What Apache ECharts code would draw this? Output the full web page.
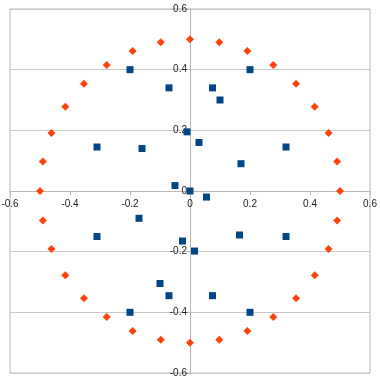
<!DOCTYPE html>
<html>
<head>
<meta charset="utf-8">
<script src="https://cdn.jsdelivr.net/npm/echarts@6/dist/echarts.min.js"></script>
<style>html,body{margin:0;padding:0;background:#fff;}#c{width:380px;height:383px;}</style>
</head>
<body>
<div id="c"></div>
<script>
var ringX = [0.5, 0.4904, 0.4619, 0.4157, 0.3536, 0.2778, 0.1913, 0.0975, 0, -0.0975, -0.1913, -0.2778, -0.3536, -0.4157, -0.4619, -0.4904,
             -0.5, -0.4904, -0.4619, -0.4157, -0.3536, -0.2778, -0.1913, -0.0975, 0, 0.0975, 0.1913, 0.2778, 0.3536, 0.4157, 0.4619, 0.4904];
var ringY = [0, 0.0975, 0.1913, 0.2778, 0.3536, 0.4157, 0.4619, 0.4904, 0.5, 0.4904, 0.4619, 0.4157, 0.3536, 0.2778, 0.1913, 0.0975,
             0, -0.0975, -0.1913, -0.2778, -0.3536, -0.4157, -0.4619, -0.4904, -0.5, -0.4904, -0.4619, -0.4157, -0.3536, -0.2778, -0.1913, -0.0975];
var pointX = [-0.2, -0.07, -0.31, -0.16, -0.01, -0.05, 0.2, 0.075, 0.1, 0.03, 0.32, 0.17, 0, 0.055,
              -0.17, -0.31, -0.025, -0.1, -0.07, -0.2, 0.165, 0.32, 0.015, 0.075, 0.2];
var pointY = [0.4, 0.34, 0.145, 0.14, 0.195, 0.018, 0.4, 0.34, 0.3, 0.16, 0.145, 0.09, 0, -0.02,
              -0.09, -0.15, -0.165, -0.305, -0.345, -0.4, -0.145, -0.15, -0.198, -0.345, -0.4];
var tickLabels = ['-0.6', '-0.4', '-0.2', '0', '0.2', '0.4', '0.6'];

function pairs(xs, ys) { return xs.map(function (x, i) { return [x, ys[i]]; }); }
function fmt(v) { var i = Math.round(v / 0.2) + 3; return tickLabels[i] !== undefined ? tickLabels[i] : ''; }

var chart = echarts.init(document.getElementById('c'), null, {renderer: 'canvas'});
chart.setOption({
  animation: false,
  backgroundColor: '#ffffff',
  grid: {left: 10, right: 10, top: 9, bottom: 10, containLabel: false, outerBoundsMode: 'none',
         show: true, borderColor: '#b8b8b8', borderWidth: 1},
  xAxis: {
    type: 'value', min: -0.6, max: 0.6, interval: 0.2, position: 'bottom', offset: -182,
    axisLine: {onZero: false, lineStyle: {color: '#b8b8b8', width: 1}},
    axisTick: {show: true, length: 4, lineStyle: {color: '#b8b8b8'}},
    axisLabel: {color: '#222', fontSize: 10, fontFamily: 'Liberation Sans', margin: 8, formatter: fmt, showMinLabel: true, showMaxLabel: true, hideOverlap: false},
    splitLine: {show: false}
  },
  yAxis: {
    type: 'value', min: -0.6, max: 0.6, interval: 0.2, position: 'left', offset: -180,
    axisLine: {onZero: false, lineStyle: {color: '#b8b8b8', width: 1}},
    axisTick: {show: true, length: 4, lineStyle: {color: '#b8b8b8'}},
    axisLabel: {color: '#222', fontSize: 10, fontFamily: 'Liberation Sans', margin: 3, formatter: fmt, showMinLabel: true, showMaxLabel: true, hideOverlap: false},
    splitLine: {show: true, lineStyle: {color: '#c8c8c8', width: 1}}
  },
  series: [
    {type: 'scatter', data: pairs(ringX, ringY), symbol: 'diamond', symbolSize: 8, itemStyle: {color: '#ff420e', opacity: 1}},
    {type: 'scatter', data: pairs(pointX, pointY), symbol: 'rect', symbolSize: 7, itemStyle: {color: '#004586', opacity: 1}}
  ]
});
</script>
</body>
</html>
